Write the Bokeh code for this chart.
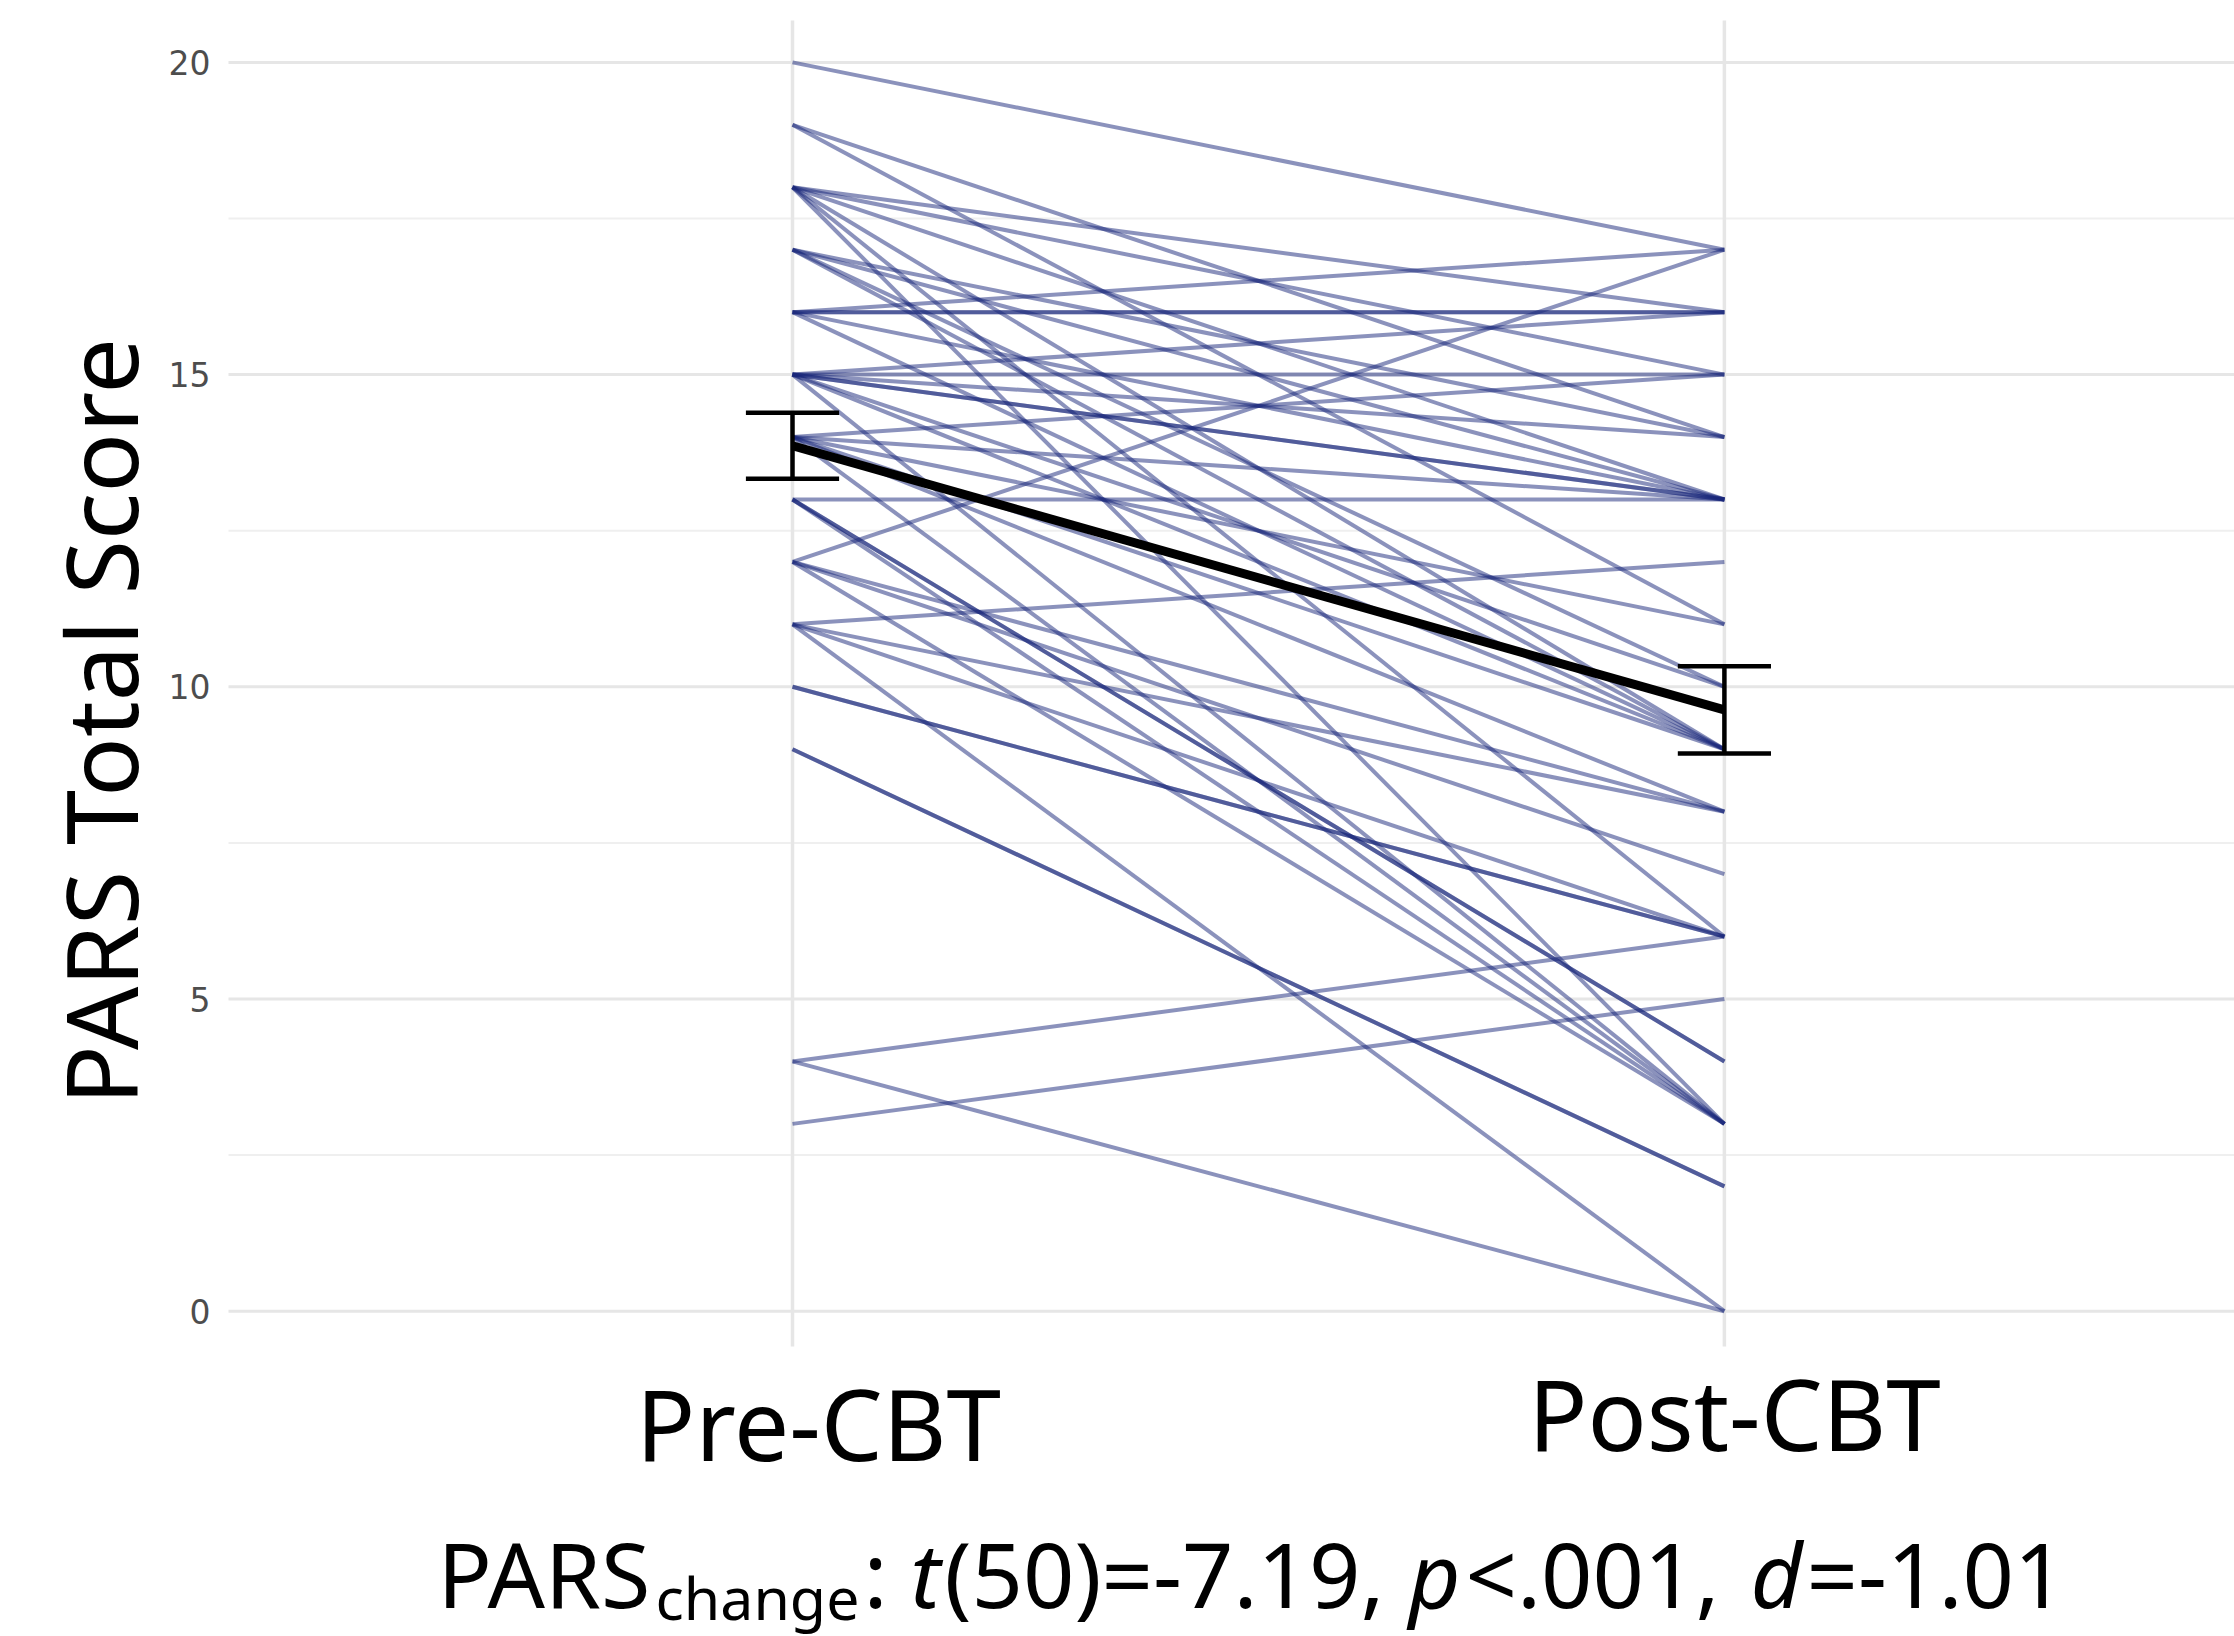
from bokeh.plotting import figure
from bokeh.models import Range1d, Label
from bokeh.embed import file_html
from bokeh.resources import INLINE
from bokeh.core.properties import value

# ---------------- data ----------------
groups = ["Pre-CBT", "Post-CBT"]
group_x = [1, 2]
pre_scores = [20, 19, 19, 18, 18, 18, 18, 18, 18, 17, 17, 17, 17,
              16, 16, 16, 16, 16, 15, 15, 15, 15, 15, 15, 15, 15,
              14, 14, 14, 14, 14, 14, 13, 13, 13, 13, 12, 12, 12, 12,
              11, 11, 11, 11, 10, 10, 9, 9, 4, 4, 3]
post_scores = [17, 14, 11, 16, 15, 13, 9, 6, 3, 14, 13, 10, 9,
               16, 16, 17, 13, 9, 16, 15, 14, 13, 13, 10, 9, 3,
               15, 13, 11, 9, 3, 8, 4, 4, 3, 13, 17, 8, 7, 3,
               12, 8, 6, 0, 6, 6, 2, 2, 6, 0, 5]
mean_scores = [13.86, 9.63]
se_scores = [0.53, 0.70]
y_ticks = [0, 5, 10, 15, 20]
y_tick_labels = ["0", "5", "10", "15", "20"]
y_minor_ticks = [2.5, 7.5, 12.5, 17.5]
y_title = "PARS Total Score"
stat_pieces = ["PARS", "change", ":", "t", "(50)=-7.19, ", "p", "<.001, ", "d", "=-1.01"]

# ---------------- layout / styling ----------------
FONT = "Noto Sans"
LINE_COLOR = "#18267a"
W, H = 2234, 1636
PX_PER_X = 931.9          # pixels per category step
PX_PER_Y = 62.44          # pixels per score point
PRE_PX, ZERO_PY = 792.0, 1310.7
BASE_K = 0.41             # anchor offset of the label text relative to its baseline

x0 = 1 - PRE_PX / PX_PER_X
y1 = ZERO_PY / PX_PER_Y

def px_x(px):
    return x0 + px / PX_PER_X

def px_y(py):
    return y1 - py / PX_PER_Y

p = figure(width=W, height=H, output_backend="svg", toolbar_location=None,
           x_range=Range1d(x0, x0 + W / PX_PER_X), y_range=Range1d(y1 - H / PX_PER_Y, y1),
           min_border=0, outline_line_color=None,
           background_fill_color="white", border_fill_color="white")
p.axis.visible = False
p.grid.visible = False

# panel area (ggplot-like, theme_minimal)
panel_left, panel_top, panel_bottom = px_x(228), px_y(20), px_y(1346)
panel_right = x0 + W / PX_PER_X

p.segment(x0=[panel_left] * len(y_minor_ticks), x1=[panel_right] * len(y_minor_ticks),
          y0=y_minor_ticks, y1=y_minor_ticks, line_color="#efefef", line_width=2)
p.segment(x0=[panel_left] * len(y_ticks), x1=[panel_right] * len(y_ticks),
          y0=y_ticks, y1=y_ticks, line_color="#e6e6e6", line_width=3)
p.segment(x0=group_x, x1=group_x, y0=[panel_bottom] * 2, y1=[panel_top] * 2,
          line_color="#e6e6e6", line_width=3.5)

# y tick labels
p.text(x=[px_x(210)] * len(y_ticks), y=y_ticks, text=y_tick_labels,
       text_font=value("DejaVu Sans"), text_font_size="33px", text_color="#4d4d4d",
       text_align="right", text_baseline="middle")

# individual subject lines
xs = [[group_x[0], group_x[1]] for _ in pre_scores]
ys = [[a, b] for a, b in zip(pre_scores, post_scores)]
p.multi_line(xs=xs, ys=ys, line_color=LINE_COLOR, line_alpha=0.5, line_width=4)

# mean line
p.line(x=group_x, y=mean_scores, line_color="black", line_width=9)

# error bars (mean +/- SE)
cap = 0.05
lo = [m - s for m, s in zip(mean_scores, se_scores)]
hi = [m + s for m, s in zip(mean_scores, se_scores)]
p.segment(x0=group_x, y0=lo, x1=group_x, y1=hi, line_color="black", line_width=4.5)
p.segment(x0=[x - cap for x in group_x], y0=lo, x1=[x + cap for x in group_x], y1=lo,
          line_color="black", line_width=4.5)
p.segment(x0=[x - cap for x in group_x], y0=hi, x1=[x + cap for x in group_x], y1=hi,
          line_color="black", line_width=4.5)

def label(x_px, base_px, text, size, style="normal", align="left", angle=0.0):
    if angle:
        xa, ya = x_px - BASE_K * size, base_px
    else:
        xa, ya = x_px, base_px - BASE_K * size
    p.add_layout(Label(x=px_x(xa), y=px_y(ya), text=text, angle=angle,
                       text_font=FONT, text_font_size=f"{size}px",
                       text_font_style=style, text_color="black",
                       text_align=align, text_baseline="alphabetic"))

# group labels
label(818, 1463, groups[0], 98, align="center")
label(1734, 1453, groups[1], 98, align="center")

# y title
label(140, 721, y_title, 99, align="center", angle=1.5708)

# statistics line (pieces placed where the reference shows them)
piece_px = [437, 655, 863, 910, 944, 1408, 1465, 1750, 1806]
piece_style = ["normal", "normal", "normal", "italic", "normal", "italic", "normal", "italic", "normal"]
piece_size = [90, 59, 90, 90, 90, 90, 90, 90, 90]
piece_base = [1609, 1621, 1609, 1609, 1609, 1609, 1609, 1609, 1609]
for txt, xp, st, sz, bp in zip(stat_pieces, piece_px, piece_style, piece_size, piece_base):
    label(xp, bp, txt, sz, style=st)

open("out.html", "w").write(file_html(p, INLINE))
